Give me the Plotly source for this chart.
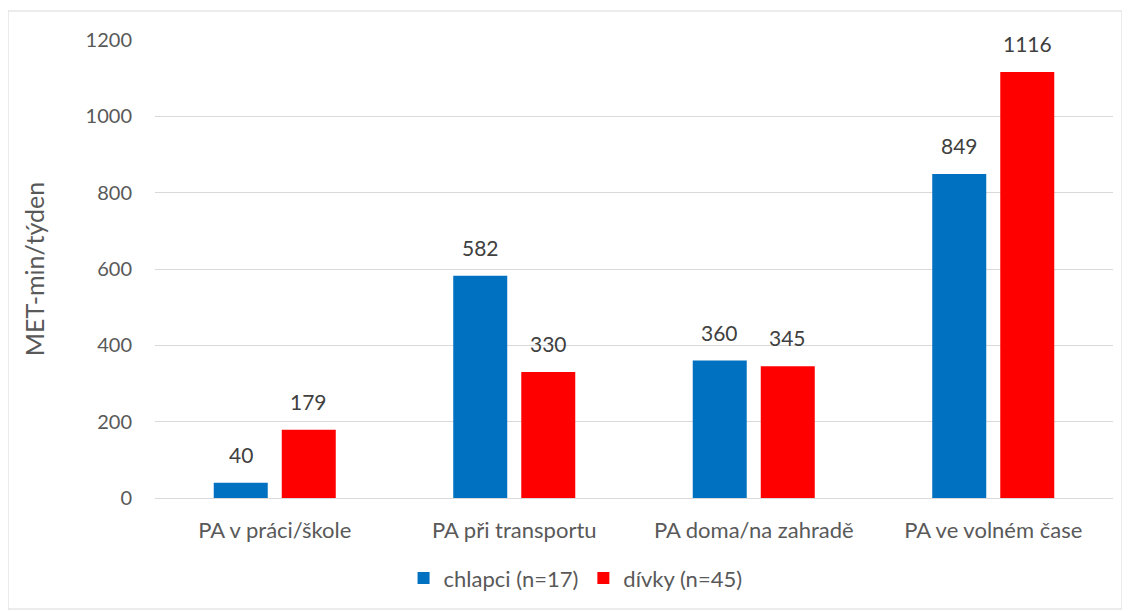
import plotly.graph_objects as go

categories = ["PA v práci/škole", "PA při transportu", "PA doma/na zahradě", "PA ve volném čase"]
boys = [40, 582, 360, 849]
girls = [179, 330, 345, 1116]
boys_name = "chlapci (n=17)"
girls_name = "dívky (n=45)"
y_ticks = [0, 200, 400, 600, 800, 1000, 1200]

FONT = "Lato"
GRAY = "#595959"
BLUE = "#0070C0"
RED = "#FF0000"

fig = go.Figure()
fig.add_trace(go.Bar(x=categories, y=boys, name=boys_name, marker_color=BLUE,
                     marker_line_width=0))
fig.add_trace(go.Bar(x=categories, y=girls, name=girls_name, marker_color=RED,
                     marker_line_width=0))

# data labels as annotations above each bar
for vals, shift in ((boys, -34), (girls, 34)):
    for c, v in zip(categories, vals):
        fig.add_annotation(x=c, y=v, text=str(v), showarrow=False,
                           xshift=shift, yshift=14, yanchor="bottom",
                           font=dict(family=FONT, size=21, color="#404040"))

fig.add_shape(type="rect", xref="paper", yref="paper",
              x0=-0.1534, x1=1.0094, y0=-0.2424, y1=1.0633,
              line=dict(color="#d9d9d9", width=1), fillcolor="rgba(0,0,0,0)")

fig.update_layout(
    width=1122, height=603,
    margin=dict(l=147, r=17, t=32, b=113),
    paper_bgcolor="white", plot_bgcolor="white",
    barmode="group", bargap=0.432, bargroupgap=0.206,
    font=dict(family=FONT, size=20, color=GRAY),
    showlegend=True,
    legend=dict(orientation="h", x=0.439, xanchor="center", y=-0.175, yanchor="middle",
                font=dict(family=FONT, size=22, color=GRAY), itemwidth=30,
                traceorder="normal"),
    xaxis=dict(showgrid=False, showline=True, linecolor="#d9d9d9", linewidth=1,
               ticks="", ticklabelstandoff=13, tickfont=dict(size=22, color=GRAY)),
    yaxis=dict(range=[0, 1200], tickvals=y_ticks, showgrid=True, gridcolor="#d9d9d9",
               gridwidth=1, zeroline=False, showline=False, ticks="",
               ticklabelstandoff=22, tickfont=dict(size=20, color=GRAY),
               title=dict(text="MET-min/týden", standoff=33,
                          font=dict(size=25, color=GRAY))),
)

fig.write_html("out.html")
